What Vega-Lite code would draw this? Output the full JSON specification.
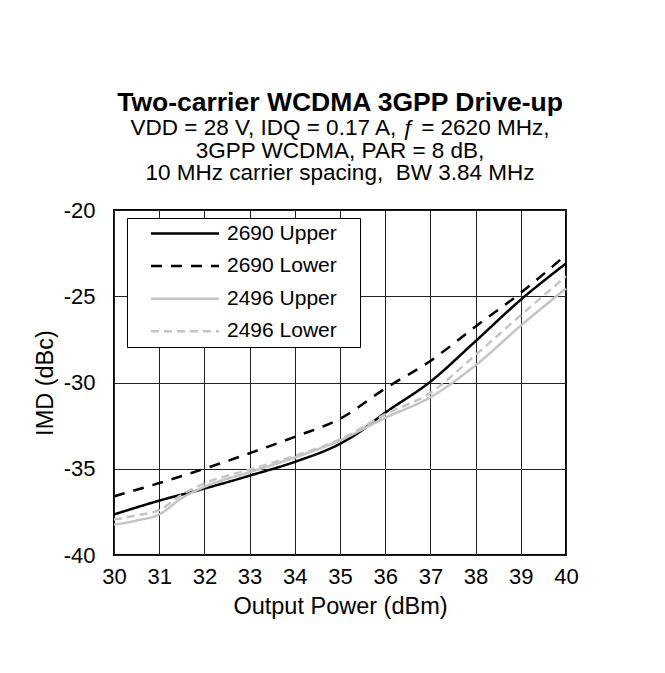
{
  "$schema": "https://vega.github.io/schema/vega-lite/v6.json",
  "width": 452,
  "height": 345,
  "autosize": {"type": "none"},
  "padding": {"left": 114, "top": 210, "right": 99, "bottom": 118},
  "background": "white",
  "title": {
    "text": "Two-carrier WCDMA 3GPP Drive-up",
    "subtitle": ["VDD = 28 V, IDQ = 0.17 A, ƒ = 2620 MHz,", "3GPP WCDMA, PAR = 8 dB,", "10 MHz carrier spacing,\u00a0 BW 3.84 MHz"],
    "font": "Liberation Sans",
    "fontSize": 26.5,
    "fontWeight": "bold",
    "color": "#000000",
    "subtitleFont": "Liberation Sans",
    "subtitleFontSize": 22.5,
    "subtitleColor": "#000000",
    "subtitleLineHeight": 22.7,
    "subtitlePadding": 1,
    "offset": 14,
    "anchor": "middle"
  },
  "data": {
    "values": [
      {"series": "2690 Upper", "pout": 30, "imd": -37.65},
      {"series": "2690 Upper", "pout": 31, "imd": -36.85},
      {"series": "2690 Upper", "pout": 32, "imd": -36.15},
      {"series": "2690 Upper", "pout": 33, "imd": -35.4},
      {"series": "2690 Upper", "pout": 34, "imd": -34.6},
      {"series": "2690 Upper", "pout": 35, "imd": -33.55},
      {"series": "2690 Upper", "pout": 35.3, "imd": -33.1},
      {"series": "2690 Upper", "pout": 36, "imd": -31.75},
      {"series": "2690 Upper", "pout": 37, "imd": -29.95},
      {"series": "2690 Upper", "pout": 38, "imd": -27.6},
      {"series": "2690 Upper", "pout": 39, "imd": -25.2},
      {"series": "2690 Upper", "pout": 40, "imd": -23.1},
      {"series": "2690 Lower", "pout": 30, "imd": -36.6},
      {"series": "2690 Lower", "pout": 31, "imd": -35.83},
      {"series": "2690 Lower", "pout": 32, "imd": -35.0},
      {"series": "2690 Lower", "pout": 33, "imd": -34.1},
      {"series": "2690 Lower", "pout": 34, "imd": -33.15},
      {"series": "2690 Lower", "pout": 35, "imd": -32.1},
      {"series": "2690 Lower", "pout": 36, "imd": -30.35},
      {"series": "2690 Lower", "pout": 37, "imd": -28.75},
      {"series": "2690 Lower", "pout": 38, "imd": -26.75},
      {"series": "2690 Lower", "pout": 39, "imd": -24.8},
      {"series": "2690 Lower", "pout": 40, "imd": -22.6},
      {"series": "2496 Upper", "pout": 30, "imd": -38.25},
      {"series": "2496 Upper", "pout": 30.5, "imd": -38.0},
      {"series": "2496 Upper", "pout": 31, "imd": -37.65},
      {"series": "2496 Upper", "pout": 31.5, "imd": -36.7},
      {"series": "2496 Upper", "pout": 32, "imd": -36.05},
      {"series": "2496 Upper", "pout": 33, "imd": -35.2},
      {"series": "2496 Upper", "pout": 34, "imd": -34.35},
      {"series": "2496 Upper", "pout": 35, "imd": -33.35},
      {"series": "2496 Upper", "pout": 36, "imd": -32.05},
      {"series": "2496 Upper", "pout": 37, "imd": -30.85},
      {"series": "2496 Upper", "pout": 38, "imd": -29.0},
      {"series": "2496 Upper", "pout": 39, "imd": -26.7},
      {"series": "2496 Upper", "pout": 40, "imd": -24.55},
      {"series": "2496 Lower", "pout": 30, "imd": -37.95},
      {"series": "2496 Lower", "pout": 30.5, "imd": -37.7},
      {"series": "2496 Lower", "pout": 31, "imd": -37.4},
      {"series": "2496 Lower", "pout": 31.5, "imd": -36.5},
      {"series": "2496 Lower", "pout": 32, "imd": -35.85},
      {"series": "2496 Lower", "pout": 33, "imd": -35.05},
      {"series": "2496 Lower", "pout": 34, "imd": -34.25},
      {"series": "2496 Lower", "pout": 35, "imd": -33.3},
      {"series": "2496 Lower", "pout": 36, "imd": -31.85},
      {"series": "2496 Lower", "pout": 37, "imd": -30.6},
      {"series": "2496 Lower", "pout": 38, "imd": -28.4},
      {"series": "2496 Lower", "pout": 39, "imd": -26.1},
      {"series": "2496 Lower", "pout": 40, "imd": -23.85}
    ]
  },
  "mark": {"type": "line", "interpolate": "monotone", "strokeWidth": 2.5},
  "encoding": {
    "x": {
      "field": "pout",
      "type": "quantitative",
      "scale": {"domain": [30, 40], "nice": false, "zero": false},
      "axis": {
        "values": [30, 31, 32, 33, 34, 35, 36, 37, 38, 39, 40],
        "labelExpr": "'' + datum.value",
        "labelFlush": false,
        "title": "Output Power (dBm)",
        "titleFontSize": 23.5,
        "titleFontWeight": "normal",
        "titleFont": "Liberation Sans",
        "titleColor": "#000000",
        "titlePadding": 7,
        "labelFontSize": 22,
        "labelFont": "Liberation Sans",
        "labelColor": "#000000",
        "labelPadding": 11,
        "ticks": false,
        "grid": true,
        "gridColor": "#222222",
        "gridWidth": 1,
        "gridOpacity": 1,
        "domain": false
      }
    },
    "y": {
      "field": "imd",
      "type": "quantitative",
      "scale": {"domain": [-40, -20], "nice": false, "zero": false},
      "axis": {
        "values": [-40, -35, -30, -25, -20],
        "labelExpr": "'' + datum.value",
        "labelFlush": false,
        "title": "IMD (dBc)",
        "titleFontSize": 23.5,
        "titleFontWeight": "normal",
        "titleFont": "Liberation Sans",
        "titleColor": "#000000",
        "titlePadding": 6,
        "labelFontSize": 22,
        "labelFont": "Liberation Sans",
        "labelColor": "#000000",
        "labelPadding": 19,
        "ticks": false,
        "grid": true,
        "gridColor": "#222222",
        "gridWidth": 1,
        "gridOpacity": 1,
        "domain": false
      }
    },
    "color": {
      "field": "series",
      "type": "nominal",
      "sort": ["2690 Upper", "2690 Lower", "2496 Upper", "2496 Lower"],
      "scale": {
        "domain": ["2690 Upper", "2690 Lower", "2496 Upper", "2496 Lower"],
        "range": ["#000000", "#000000", "#c4c4c4", "#c4c4c4"]
      },
      "legend": {"title": null, "labelExpr": "datum.label + '\u00a0\u00a0\u00a0\u200b'"}
    },
    "strokeDash": {
      "field": "series",
      "type": "nominal",
      "sort": ["2690 Upper", "2690 Lower", "2496 Upper", "2496 Lower"],
      "scale": {
        "domain": ["2690 Upper", "2690 Lower", "2496 Upper", "2496 Lower"],
        "range": [[1, 0], [11, 9], [1, 0], [8, 5]]
      },
      "legend": {"title": null, "labelExpr": "datum.label + '\u00a0\u00a0\u00a0\u200b'"}
    }
  },
  "config": {
    "view": {"stroke": "#000000", "strokeWidth": 2},
    "legend": {
      "orient": "none",
      "legendX": 13,
      "legendY": 8,
      "fillColor": "white",
      "strokeColor": "#000000",
      "padding": 5,
      "symbolType": "M1.06,0H9.56",
      "symbolSize": 256,
      "symbolStrokeWidth": 2.5,
      "labelFont": "Liberation Sans",
      "labelFontSize": 21,
      "labelColor": "#000000",
      "labelOffset": 74,
      "rowPadding": 10.6,
      "labelLimit": 250
    }
  }
}
